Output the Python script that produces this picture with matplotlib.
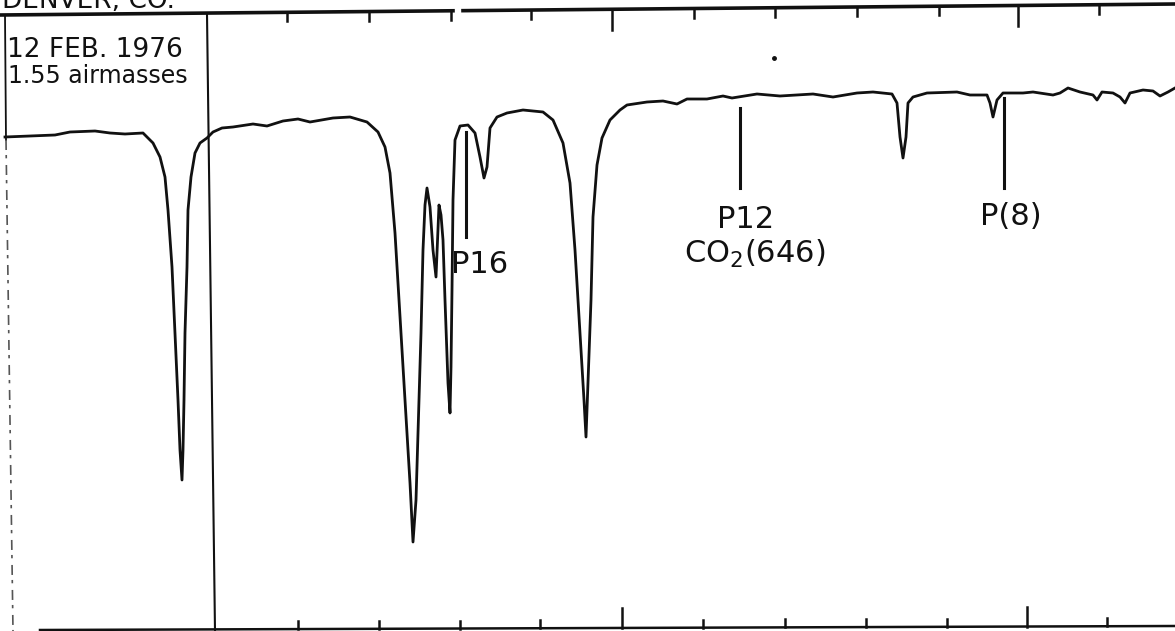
import matplotlib
matplotlib.use("Agg")
import matplotlib.pyplot as plt
import numpy as np

# chart-paper coordinates: position along the scan, pen depth measured down from the top edge
position = [5, 30, 55, 70, 95, 110, 125, 143, 153, 160, 165, 168, 172, 175, 178, 180, 182,
            183, 184, 185, 187, 188, 191, 195, 200, 207, 213, 222, 233, 253, 267, 283, 298,
            310, 333, 350, 367, 378, 385, 390, 395, 400, 405, 410, 413,
            416, 418, 421, 423, 425, 427, 430, 433, 436, 439, 441, 443, 445, 448, 450,
            451, 452, 453, 455, 460, 468, 475, 480, 484, 487, 490, 497, 507, 523, 543, 553,
            563, 570, 575, 580, 584, 586, 588, 591, 593, 597, 602, 610, 620, 627, 647, 663,
            677, 687, 707, 723, 732, 757, 780, 813, 833, 857, 873, 892, 897, 900, 903, 906,
            908, 913, 927, 957, 970, 987, 990, 993, 997, 1003, 1023, 1033, 1053, 1060, 1068,
            1080, 1093, 1097, 1102, 1113, 1120, 1125, 1130, 1143, 1153, 1160, 1168, 1175]
depth = [137, 136, 135, 132, 131, 133, 134, 133, 143, 157, 177, 210, 267, 333, 400, 450, 480,
         450, 400, 333, 267, 210, 177, 153, 143, 138, 132, 128, 127, 124, 126, 121, 119,
         122, 118, 117, 122, 132, 147, 173, 233, 317, 400, 483, 542,
         500, 433, 333, 250, 205, 188, 207, 250, 277, 205, 215, 240, 300, 383, 413,
         367, 290, 200, 140, 126, 125, 133, 157, 178, 167, 128, 117, 113, 110, 112, 120,
         143, 183, 250, 333, 400, 437, 383, 300, 217, 165, 138, 120, 110, 105, 102, 101,
         104, 99, 99, 96, 98, 94, 96, 94, 97, 93, 92, 94, 103, 137, 158, 137,
         103, 97, 93, 92, 95, 95, 103, 117, 100, 93, 93, 92, 95, 93, 88,
         92, 95, 100, 92, 93, 97, 103, 93, 90, 91, 96, 92, 88]

# frame ticks (top edge / bottom edge of the paper), long ones every fifth
top_ticks = [287, 369, 451, 531, 612, 694, 775, 857, 939, 1018, 1099]
bottom_ticks = [298, 379, 460, 540, 622, 703, 785, 866, 947, 1027, 1107]
long_ticks = [4, 9]

# line identifications: (position, top, bottom, label, label x, label baseline)
markers = [(466, 132, 237), (740, 108, 188), (1004, 98, 188)]
labels = [("P16", 480, 273), ("P12", 746, 228), ("CO$_2$(646)", 755, 263), ("P(8)", 1011, 225)]

W, H = 1175, 631
fig = plt.figure(figsize=(W / 100, H / 100), dpi=100)
ax = fig.add_axes([0, 0, 1, 1])
ax.set_xlim(0, W)
ax.set_ylim(H, 0)
ax.axis("off")

ink = "#111111"

# spectrum trace
ax.plot(position, depth, color=ink, lw=2.0, solid_joinstyle="round")

# paper frame (scan is slightly rotated)
def top_y(x):
    return 15 - 11 * x / W

ax.plot([0, 453], [top_y(0), top_y(453)], color=ink, lw=2.6)
ax.plot([463, W], [top_y(463), top_y(W)], color=ink, lw=2.6)
ax.plot([40, W], [630, 626], color=ink, lw=1.8)
ax.plot([207, 215], [14, H], color=ink, lw=1.5)
ax.plot([5, 6], [15, 140], color=ink, lw=1.3)
ax.plot([6, 13], [140, H], color="#555555", lw=1.2, dashes=(6, 3, 2, 4))

for i, x in enumerate(top_ticks):
    L = 21 if i in long_ticks else 9
    ax.plot([x, x], [top_y(x), top_y(x) + L], color=ink, lw=1.8)
for i, x in enumerate(bottom_ticks):
    L = 20 if i in long_ticks else 8
    yb = 630 - 4 * (x - 40) / (W - 40)
    ax.plot([x, x], [yb, yb - L], color=ink, lw=1.8)

for x, y0, y1 in markers:
    ax.plot([x, x], [y0, y1], color=ink, lw=2.2)
for txt, x, y in labels:
    ax.text(x, y, txt, ha="center", va="baseline", fontsize=22, color=ink,
            family="DejaVu Sans")

ax.plot([774], [58], marker="o", ms=2.5, color=ink)

# header lettering
ax.text(2, 8, "DENVER, CO.", ha="left", va="baseline", fontsize=19, color=ink)
ax.text(7, 57, "12 FEB. 1976", ha="left", va="baseline", fontsize=19, color=ink)
ax.text(8, 83, "1.55 airmasses", ha="left", va="baseline", fontsize=17, color=ink)

fig.savefig("out.png", dpi=100, facecolor="white")
